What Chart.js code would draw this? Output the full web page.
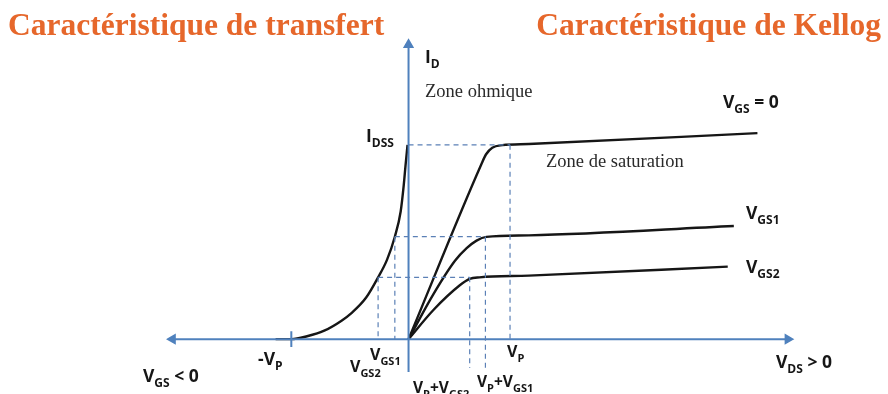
<!DOCTYPE html>
<html>
<head>
<meta charset="utf-8">
<script src="https://cdn.jsdelivr.net/npm/chart.js@4.4.1/dist/chart.umd.min.js"></script>
<style>
  body { margin: 0; background: #fff; }
  canvas { display: block; }
</style>
</head>
<body>
<canvas id="jfetChart" width="888" height="394"></canvas>
<script>
// JFET characteristics, schematic values (V, mA)
const VP = 4;          // pinch-off voltage on the V_DS side
const VGS_OFF = -4.62; // -Vp tick on the transfer side
const IDSS = 10;
const VGS1 = -0.54, VGS2 = -1.2;
const ID1 = 5.27, ID2 = 3.18;
const VDSAT1 = 3.03, VDSAT2 = 2.41;

// transfer characteristic (I_D vs V_GS)
const transferVgs = [-5.24, -4.62, -4.0, -3.3, -2.64, -2.25, -1.67, -1.2, -0.85, -0.54, -0.31, -0.19, -0.12, -0.04];
const transferId  = [0, 0, 0.15, 0.45, 0.95, 1.34, 2.14, 3.18, 4.08, 5.27, 6.57, 7.91, 8.91, 10.0];

// output characteristics (I_D vs V_DS)
const vds0 = [0, 2.87, 3.05, 3.3, 3.7, 4.74, 13.75];
const id0  = [0, 9.0, 9.5, 9.85, 9.98, 10.04, 10.6];
const vds1 = [0, 0.97, 1.83, 2.29, 2.68, 3.07, 4.74, 12.82];
const id1  = [0, 2.29, 4.03, 4.68, 5.07, 5.26, 5.34, 5.82];
const vds2 = [0, 0.98, 2.02, 2.41, 2.8, 4.74, 12.58];
const id2  = [0, 1.5, 2.77, 3.1, 3.18, 3.27, 3.73];

// axes extents
const xAxisEnds = [-9.3, 14.95];
const yAxisEnds = [-1.69, 15.15];

const AXIS = "#4f81bd";
const GUIDE = "#5b80b6";
const INK = "#161616";

function pts(xs, ys) {
  return xs.map((x, i) => ({ x: x, y: ys[i] }));
}

function curve(xs, ys) {
  return {
    data: pts(xs, ys),
    borderColor: INK,
    borderWidth: 2.4,
    pointRadius: 0,
    cubicInterpolationMode: "monotone",
  };
}

function guide(a, b) {
  return {
    data: [a, b],
    borderColor: GUIDE,
    borderWidth: 1.2,
    borderDash: [5, 4],
    pointRadius: 0,
  };
}

const datasets = [
  // dashed guides
  guide({ x: 0, y: IDSS }, { x: VP, y: IDSS }),
  guide({ x: VP, y: IDSS }, { x: VP, y: 0 }),
  guide({ x: VGS1, y: ID1 }, { x: VDSAT1, y: ID1 }),
  guide({ x: VGS2, y: ID2 }, { x: VDSAT2, y: ID2 }),
  guide({ x: VGS1, y: ID1 }, { x: VGS1, y: 0 }),
  guide({ x: VGS2, y: ID2 }, { x: VGS2, y: 0 }),
  guide({ x: VDSAT1, y: ID1 }, { x: VDSAT1, y: -1.49 }),
  guide({ x: VDSAT2, y: ID2 }, { x: VDSAT2, y: -1.49 }),
  // axes with arrow heads
  {
    data: [{ x: xAxisEnds[0], y: 0 }, { x: xAxisEnds[1], y: 0 }],
    borderColor: AXIS,
    borderWidth: 2,
    pointStyle: "triangle",
    pointRadius: 4.5,
    pointRotation: [-90, 90],
    pointBackgroundColor: AXIS,
    pointBorderColor: AXIS,
  },
  {
    data: [{ x: 0, y: yAxisEnds[0] }, { x: 0, y: yAxisEnds[1] }],
    borderColor: AXIS,
    borderWidth: 2,
    pointStyle: "triangle",
    pointRadius: [0, 4.5],
    pointBackgroundColor: AXIS,
    pointBorderColor: AXIS,
  },
  // -Vp tick
  {
    data: [{ x: VGS_OFF, y: -0.4 }, { x: VGS_OFF, y: 0.4 }],
    borderColor: AXIS,
    borderWidth: 2,
    pointRadius: 0,
  },
  // curves
  curve(transferVgs, transferId),
  curve(vds0, id0),
  curve(vds1, id1),
  curve(vds2, id2),
];

const SANS = "'Open Sans'";

function drawRich(ctx, x, y, parts, size) {
  let cx = x;
  parts.forEach(function (p) {
    const sub = p[1];
    const s = sub ? Math.round(size * 0.7) : size;
    ctx.font = "bold " + s + "px " + SANS;
    ctx.fillText(p[0], cx, sub ? y + size * 0.3 : y);
    cx += ctx.measureText(p[0]).width;
  });
}

const labelsPlugin = {
  id: "labels",
  afterDatasetsDraw(chart) {
    const ctx = chart.ctx;
    ctx.save();
    ctx.textBaseline = "alphabetic";

    // titles
    ctx.fillStyle = "#e6672b";
    ctx.font = "bold 31.5px 'Liberation Serif'";
    ctx.textAlign = "left";
    ctx.fillText("Caractéristique de transfert", 8, 35);
    ctx.textAlign = "right";
    ctx.fillText("Caractéristique de Kellog", 881, 35);
    ctx.textAlign = "left";

    // zone names
    ctx.fillStyle = "#2a2a2a";
    ctx.font = "18.5px 'Liberation Serif'";
    ctx.fillText("Zone ohmique", 425, 97);
    ctx.fillText("Zone de saturation", 546, 167);

    // symbols
    ctx.fillStyle = INK;
    const S = 17.5;
    drawRich(ctx, 425, 63, [["I", 0], ["D", 1]], S);
    drawRich(ctx, 366, 142, [["I", 0], ["DSS", 1]], S);
    drawRich(ctx, 723, 108, [["V", 0], ["GS", 1], [" = 0", 0]], S);
    drawRich(ctx, 746, 219, [["V", 0], ["GS1", 1]], S);
    drawRich(ctx, 746, 273, [["V", 0], ["GS2", 1]], S);
    drawRich(ctx, 776, 368, [["V", 0], ["DS", 1], [" > 0", 0]], S);
    drawRich(ctx, 143, 382, [["V", 0], ["GS", 1], [" < 0", 0]], S);
    drawRich(ctx, 258, 365, [["-V", 0], ["P", 1]], S);
    drawRich(ctx, 370, 360, [["V", 0], ["GS1", 1]], 16);
    drawRich(ctx, 350, 372, [["V", 0], ["GS2", 1]], 16);
    drawRich(ctx, 507, 357, [["V", 0], ["P", 1]], 16);
    drawRich(ctx, 413, 393, [["V", 0], ["P", 1], ["+V", 0], ["GS2", 1]], 15.5);
    drawRich(ctx, 477, 387, [["V", 0], ["P", 1], ["+V", 0], ["GS1", 1]], 15.5);
    ctx.restore();
  },
};

const ctx = document.getElementById("jfetChart").getContext("2d");

new Chart(ctx, {
  type: "scatter",
  data: { datasets: datasets.map((d) => Object.assign({ showLine: true, fill: false }, d)) },
  options: {
    responsive: false,
    animation: false,
    layout: { padding: 0 },
    plugins: { legend: { display: false }, tooltip: { enabled: false } },
    scales: {
      x: { type: "linear", display: false, min: -15.845, max: 18.64 },
      y: { type: "linear", display: false, min: -2.4876, max: 17.114 },
    },
  },
  plugins: [labelsPlugin],
});
</script>
</body>
</html>
